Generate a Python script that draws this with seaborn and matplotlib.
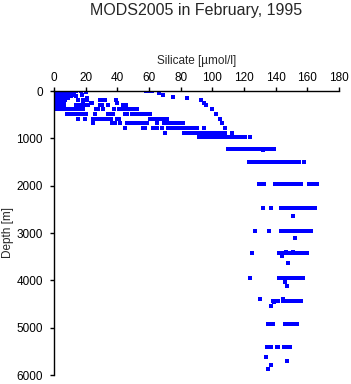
import pandas as pd
import matplotlib
matplotlib.use("Agg")
import matplotlib.pyplot as plt
import seaborn as sns

upper_depth = [0, 10, 20, 30, 50, 75, 100, 125, 150, 200, 250, 300]
upper_si = [
    [0.5, 1.5, 2.5, 3.5, 4.5, 5.5, 6.5, 7.5, 8.5, 9.5, 10.5, 11.5, 12.5, 13.7, 16.9, 20.2, 57.8, 59.5, 61.6],
    [0.4, 1.3, 2.2, 3.1, 4.0, 5.0, 6.1, 7.2, 8.3, 9.4, 10.6, 11.8, 12.9, 20.0, 60.2],
    [0.6, 1.6, 2.7, 3.8, 4.9, 6.0, 7.1, 8.2, 9.3, 10.4, 11.5, 12.4],
    [0.3, 1.4, 2.5, 3.6, 4.7, 5.8, 6.9, 8.0, 9.1, 10.2, 11.3, 12.2, 20.4],
    [0.5, 1.6, 2.7, 3.8, 4.9, 6.0, 7.1, 8.2, 9.3, 10.4, 11.6, 66.3],
    [0.4, 1.5, 2.6, 3.7, 4.8, 5.9, 7.0, 8.1, 9.2, 10.3, 11.4, 17.5, 69.0],
    [0.6, 1.7, 2.8, 3.9, 5.0, 6.1, 7.2, 8.3, 9.4, 10.6, 13.9],
    [0.5, 1.6, 2.7, 3.8, 4.9, 6.0, 7.1, 8.2, 9.0, 75.4],
    [0.3, 1.4, 2.5, 3.6, 4.7, 5.8, 6.9, 8.0, 8.6, 20.6, 84.3],
    [0.5, 1.6, 2.7, 3.8, 4.9, 6.0, 7.0, 15.4, 18.1, 21.0, 29.0, 31.0, 32.2, 39.0, 92.8],
    [0.4, 1.5, 2.6, 3.7, 4.8, 5.8, 6.6, 18.5, 23.4, 24.2, 39.6, 95.0],
    [0.6, 1.5, 2.4, 3.3, 4.2, 5.1, 6.0, 13.9, 15.4, 17.0, 18.5, 20.0, 21.7, 29.0, 30.1, 34.3, 43.8, 45.5, 96.2],
]

mid_depth = [387, 493, 598, 683, 788, 894, 980, 1232]
mid_si = [
    [2.1, 3.5, 5.0, 6.5, 8.0, 9.5, 11.0, 12.4, 13.3, 14.7, 16.2, 17.5, 18.5, 26.5, 28.0, 31.1, 38.1,
     41.3, 42.8, 44.3, 47.0, 48.5, 50.0, 51.2, 52.2, 99.6],
    [8.0, 9.2, 10.5, 12.8, 14.2, 15.6, 17.0, 18.5, 20.0, 25.9, 34.3, 35.2, 37.5, 44.8, 46.3, 49.0,
     50.5, 52.0, 53.5, 55.4, 57.5, 59.0, 60.6, 102.0],
    [15.2, 19.8, 24.4, 25.7, 27.0, 29.0, 30.5, 32.0, 33.4, 34.3, 36.2, 39.6, 41.2, 60.6, 62.2, 63.8,
     65.5, 67.0, 68.5, 70.0, 71.2, 104.8],
    [24.8, 36.4, 37.5, 38.5, 41.7, 46.3, 47.8, 49.3, 50.8, 52.3, 53.9, 55.4, 57.5, 58.5, 59.0, 64.9,
     69.7, 71.2, 72.7, 74.2, 75.7, 77.2, 78.7, 80.2, 81.7, 106.3],
    [44.8, 56.4, 57.5, 62.5, 63.7, 64.9, 68.4, 71.8, 73.0, 74.3, 76.4, 77.8, 79.2, 80.6, 82.0, 83.4,
     84.8, 86.2, 87.6, 89.0, 90.1, 94.9, 108.0],
    [70.1, 82.3, 83.8, 85.3, 86.8, 88.3, 89.8, 91.3, 92.8, 94.3, 95.8, 97.3, 98.8, 100.3, 101.7,
     103.4, 105.9, 108.0, 112.2],
    [91.6, 93.1, 94.6, 96.1, 97.6, 99.1, 100.6, 102.1, 103.6, 105.1, 106.6, 108.0, 110.0, 112.6,
     114.2, 115.8, 117.4, 119.0, 120.6, 123.8],
    [110.0, 111.5, 113.0, 114.5, 116.0, 117.5, 119.2, 121.3, 122.8, 124.3, 125.8, 127.3, 129.0,
     130.0, 131.5, 133.0, 134.5, 136.0, 137.5, 139.0],
]

deep_depth = [1490, 1975, 2480, 2960, 3430, 3944, 4437, 4916, 5400]
deep_si = [
    [123.2, 124.7, 126.2, 127.7, 129.2, 130.7, 132.2, 133.7, 135.2, 136.9, 139.6, 141.0, 142.4,
     143.8, 145.5, 146.8, 148.0, 150.5, 152.0, 153.4, 154.7, 157.9],
    [129.5, 131.0, 132.6, 139.6, 141.2, 142.8, 144.4, 145.9, 147.3, 148.9, 150.5, 152.1, 153.7,
     155.2, 155.8, 161.3, 162.8, 164.3, 165.9],
    [132.2, 137.0, 143.4, 144.9, 146.4, 147.9, 149.4, 150.9, 152.4, 153.9, 155.4, 156.9, 158.4,
     159.9, 161.4, 162.8, 164.8],
    [127.2, 136.0, 143.4, 144.6, 145.9, 147.3, 148.8, 150.3, 151.8, 153.3, 154.8, 156.3, 157.1,
     159.2, 160.6, 162.1],
    [125.3, 142.3, 143.8, 144.8, 146.3, 147.8, 149.3, 150.8, 152.3, 153.8, 155.3, 156.5, 157.5, 160.0],
    [123.8, 142.3, 143.6, 144.8, 145.9, 147.3, 148.6, 149.9, 151.2, 152.5, 153.8, 155.0, 156.1, 157.1],
    [138.5, 140.1, 141.7, 144.4, 145.8, 147.2, 148.6, 150.5, 152.0, 153.5, 154.8, 155.8],
    [135.4, 136.8, 138.5, 146.1, 147.0, 148.3, 149.5, 150.7, 152.8, 153.7],
    [134.3, 135.5, 136.8, 140.6, 141.7, 145.5, 146.8, 148.0, 149.0],
]

# odd single casts between the main levels
single_depth = [1215, 1250, 2641, 3112, 3395, 3395, 3480, 3627, 4042, 4127, 4385, 4395,
                4465, 4549, 5710, 5627, 5789, 5880]
single_si = [124.0, 132.0, 151.2, 152.2, 146.5, 151.2, 144.2, 148.0, 146.1, 147.0, 130.1, 144.8,
             139.2, 137.3, 147.0, 134.1, 137.3, 135.4]


def build_frame():
    rows = []
    for depths, values in [(upper_depth, upper_si), (mid_depth, mid_si), (deep_depth, deep_si)]:
        for d, vals in zip(depths, values):
            for v in vals:
                rows.append((v, d))
    rows += list(zip(single_si, single_depth))
    return pd.DataFrame(rows, columns=["Silicate", "Depth"])


def main():
    df = build_frame()

    sns.set_style("ticks")
    plt.rcParams['font.family'] = ['Liberation Sans', 'DejaVu Sans']

    fig = plt.figure(figsize=(3.51, 3.84), dpi=100)
    ax = fig.add_axes([54 / 351, 9 / 384, 285 / 351, 284 / 384])

    sns.scatterplot(data=df, x="Silicate", y="Depth", ax=ax, color="#0000ff",
                    marker="s", s=5.0, linewidth=0, legend=False)
    # crisp square dots like the original raster plot
    ax.collections[0].set_antialiased(False)

    ax.set_xlim(0, 180)
    ax.set_ylim(6000, 0)
    ax.set_xticks(range(0, 181, 20))
    ax.set_yticks(range(0, 6001, 1000))

    ax.xaxis.tick_top()
    ax.xaxis.set_label_position("top")
    ax.spines["right"].set_visible(False)
    ax.spines["bottom"].set_visible(False)
    for side in ("left", "top"):
        ax.spines[side].set_color("black")
        ax.spines[side].set_linewidth(1.0)

    ax.tick_params(axis="x", length=3, width=1, pad=2, labelsize=8.5, colors="black")
    ax.tick_params(axis="y", length=3, width=1, pad=5, labelsize=8.5, colors="black")

    ax.set_xlabel("Silicate [µmol/l]", fontsize=8.5, labelpad=6)
    ax.set_ylabel("Depth [m]", fontsize=8.5, labelpad=2)

    fig.text(196 / 351, 1 - 10 / 384, "MODS2005 in February, 1995",
             ha="center", va="center", fontsize=11.5)

    fig.savefig("out.png", dpi=100)


if __name__ == "__main__":
    main()
